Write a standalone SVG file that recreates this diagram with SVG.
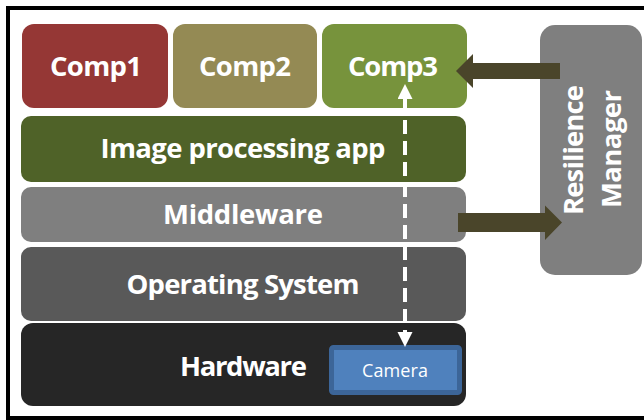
<svg xmlns="http://www.w3.org/2000/svg" width="644" height="420" viewBox="0 0 644 420">
  <defs>
    <style>
      .lbl { font-family: "Open Sans", "Liberation Sans", sans-serif; font-weight: bold; font-size: 27.5px; fill: #ffffff; text-anchor: middle; }
      .cam { font-family: "Open Sans", "Liberation Sans", sans-serif; font-size: 18px; fill: #ffffff; text-anchor: middle; }
      .blk { fill: #4a452a; }
    </style>
    <marker id="wh" markerUnits="userSpaceOnUse" markerWidth="16" markerHeight="16" refX="0" refY="7.5" orient="auto-start-reverse" viewBox="0 0 16 16">
      <path d="M0,0 L15,7.5 L0,15 Z" fill="#ffffff"/>
    </marker>
  </defs>
  <rect x="0" y="0" width="644" height="420" fill="#ffffff"/>
  <rect x="8" y="8" width="700" height="410" fill="none" stroke="#000000" stroke-width="4"/>

  <g id="comp1">
    <rect x="22" y="24" width="146" height="84" rx="12" fill="#953735"/>
    <text class="lbl" x="96" y="76" textLength="92">Comp1</text>
  </g>
  <g id="comp2">
    <rect x="173" y="24" width="144" height="84" rx="12" fill="#948a54"/>
    <text class="lbl" x="245" y="76" textLength="92">Comp2</text>
  </g>
  <g id="comp3">
    <rect x="322" y="24" width="145" height="84" rx="12" fill="#77933c"/>
    <text class="lbl" x="393" y="76" textLength="90">Comp3</text>
  </g>
  <g id="image-processing-app">
    <rect x="21" y="116" width="445" height="66" rx="10" fill="#4f6228"/>
    <text class="lbl" x="243" y="158" textLength="285">Image processing app</text>
  </g>
  <g id="middleware">
    <rect x="21" y="187" width="445" height="55" rx="10" fill="#7f7f7f"/>
    <text class="lbl" x="243" y="224" textLength="160">Middleware</text>
  </g>
  <g id="operating-system">
    <rect x="21" y="247" width="445" height="74" rx="10" fill="#595959"/>
    <text class="lbl" x="243" y="294" textLength="233">Operating System</text>
  </g>
  <g id="hardware">
    <rect x="21" y="323" width="445" height="83" rx="12" fill="#262626"/>
    <text class="lbl" x="243.5" y="376" textLength="127">Hardware</text>
  </g>
  <g id="camera">
    <rect x="331.5" y="347.5" width="128" height="45" rx="2" fill="#4f81bd" stroke="#3c6598" stroke-width="5"/>
    <text class="cam" x="395" y="376.5" textLength="66">Camera</text>
  </g>
  <g id="resilience-manager">
    <rect x="540" y="25" width="102" height="250" rx="15" fill="#7f7f7f"/>
    <text class="lbl" transform="translate(583,150) rotate(-90)" x="0" y="0" textLength="130">Resilience</text>
    <text class="lbl" transform="translate(621,149) rotate(-90)" x="0" y="0" textLength="118">Manager</text>
  </g>

  <g id="connectors">
    <polygon class="blk" points="560,63 473,63 473,54 456,71 473,88 473,79 560,79"/>
    <polygon class="blk" points="458,213 545,213 545,205.5 562,222.5 545,240 545,232 458,232"/>
    <path d="M405,99 L405,332" fill="none" stroke="#ffffff" stroke-width="4" stroke-dasharray="14 7" marker-start="url(#wh)" marker-end="url(#wh)"/>
  </g>
</svg>
